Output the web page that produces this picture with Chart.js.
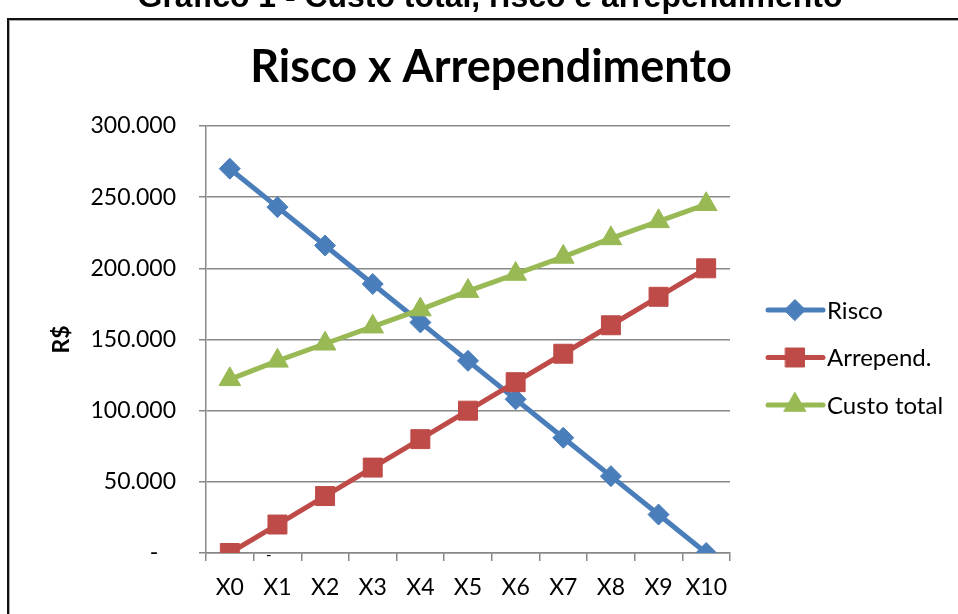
<!DOCTYPE html>
<html>
<head>
<meta charset="utf-8">
<script src="https://cdn.jsdelivr.net/npm/chart.js@4/dist/chart.umd.min.js"></script>
<style>
  html, body { margin: 0; padding: 0; background: #fff; overflow: hidden; }
  #wrap { position: relative; width: 958px; height: 614px; overflow: hidden; }
  canvas { position: absolute; left: 0; top: 0; }
</style>
</head>
<body>
<div id="wrap"><canvas id="c" width="958" height="614"></canvas></div>
<script>
// Categories and series (R$)
const categories = ['X0', 'X1', 'X2', 'X3', 'X4', 'X5', 'X6', 'X7', 'X8', 'X9', 'X10'];
const risco      = [270000, 243000, 216000, 189000, 162000, 135000, 108000, 81000, 54000, 27000, 0];
const arrepend   = [0, 20000, 40000, 60000, 80000, 100000, 120000, 140000, 160000, 180000, 200000];
const custoTotal = [122000, 135000, 147000, 159000, 171000, 184000, 196000, 208000, 221000, 233000, 245000];
const seriesNames = ['Risco', 'Arrepend.', 'Custo total'];

const yMin = 0, yMax = 300000, yStep = 50000;

const captionText = 'Gráfico 1 - Custo total, risco e arrependimento';
const chartTitle = 'Risco x Arrependimento';
const yAxisTitle = 'R$';

const FONT = 'Lato, "Noto Sans", sans-serif';
const GRID = '#888888';

// 50000 -> "50.000", 0 -> "-"
function fmt(v) {
  if (v === 0) return '-   ';
  const s = String(Math.round(v));
  return s.replace(/\B(?=(\d{3})+(?!\d))/g, '.');
}

// Caption, frame, chart title and legend drawn on the same canvas
const decor = {
  id: 'decor',
  afterDraw(chart) {
    const ctx = chart.ctx;
    const area = chart.chartArea;
    ctx.save();

    // document caption above the frame, fitted to its width
    const capFamily = '"Liberation Sans Narrow", "Liberation Sans", Arial, sans-serif';
    ctx.font = 'bold 32px ' + capFamily;
    const w = ctx.measureText(captionText).width;
    const size = 32 * 705 / w;
    ctx.font = 'bold ' + size.toFixed(2) + 'px ' + capFamily;
    ctx.fillStyle = '#000';
    ctx.textAlign = 'center';
    ctx.textBaseline = 'alphabetic';
    ctx.fillText(captionText, 490, 7);

    // frame around the chart
    ctx.fillStyle = '#111';
    ctx.fillRect(7, 18, 2, 700);
    ctx.fillRect(7, 18, 1000, 2);
    ctx.fillStyle = '#aaa';
    ctx.fillRect(9, 20, 1, 700);
    ctx.fillRect(9, 20, 1000, 1);

    // chart title
    ctx.fillStyle = '#000';
    ctx.font = 'bold 45px ' + FONT;
    ctx.textAlign = 'center';
    ctx.textBaseline = 'alphabetic';
    ctx.fillText(chartTitle, 491, 82);

    // legend: line + marker + name
    const lx0 = area.right + 38, lx1 = area.right + 93, mx = area.right + 65, tx = area.right + 97;
    chart.data.datasets.forEach((ds, i) => {
      const y = 310 + i * 47.5;
      ctx.strokeStyle = ds.borderColor;
      ctx.lineWidth = ds.borderWidth;
      ctx.lineCap = 'round';
      ctx.beginPath();
      ctx.moveTo(lx0, y);
      ctx.lineTo(lx1, y);
      ctx.stroke();
      ctx.fillStyle = ds.pointBackgroundColor;
      ctx.strokeStyle = ds.pointBorderColor;
      ctx.lineWidth = ds.pointBorderWidth;
      Chart.helpers.drawPoint(ctx, {
        pointStyle: ds.pointStyle, radius: ds.pointRadius, rotation: 0, borderWidth: ds.pointBorderWidth
      }, mx, y);
      ctx.fillStyle = '#000';
      ctx.font = '24px ' + FONT;
      ctx.textAlign = 'left';
      ctx.textBaseline = 'middle';
      ctx.fillText(ds.label, tx, y + 1);
    });

    // zero label of the first Arrepend. point
    const xs = chart.scales.x, ys = chart.scales.y;
    ctx.font = '15px ' + FONT;
    ctx.textAlign = 'center';
    ctx.textBaseline = 'middle';
    ctx.fillStyle = '#000';
    ctx.fillText('-', xs.getPixelForValue(0) + 39, ys.getPixelForValue(arrepend[0]) + 2);

    ctx.restore();
  }
};

function series(label, data, color, style, radius, order) {
  return {
    label, data, order,
    borderColor: color, backgroundColor: color,
    borderWidth: 5, borderJoinStyle: 'round', borderCapStyle: 'round',
    tension: 0, fill: false,
    pointStyle: style, pointRadius: radius, pointHoverRadius: radius,
    pointBackgroundColor: color, pointBorderColor: color, pointBorderWidth: 1
  };
}

function draw() {
  new Chart(document.getElementById('c'), {
    type: 'line',
    data: {
      labels: categories,
      datasets: [
        series(seriesNames[0], risco, '#4A7EBB', 'rectRot', 10.5, 3),
        series(seriesNames[1], arrepend, '#BE4B48', 'rect', 13.4, 2),
        series(seriesNames[2], custoTotal, '#98B954', 'triangle', 12.5, 1)
      ]
    },
    options: {
      responsive: false,
      animation: false,
      devicePixelRatio: 1,
      layout: { padding: { top: 126, right: 228, bottom: 0, left: 0 } },
      plugins: { legend: { display: false }, title: { display: false }, tooltip: { enabled: false } },
      scales: {
        x: {
          offset: true,
          grid: { display: true, drawOnChartArea: false, drawTicks: true, tickLength: 8, offset: true, color: GRID, lineWidth: 1.5 },
          border: { display: true, color: GRID, width: 1.5 },
          ticks: { color: '#000', font: { family: FONT, size: 23 }, padding: 13, maxRotation: 0, autoSkip: false },
          afterFit(s) { s.height = 61; }
        },
        y: {
          min: yMin, max: yMax,
          grid: { color: GRID, lineWidth: 1.5, tickLength: 7 },
          border: { display: true, color: GRID, width: 1.5 },
          ticks: { stepSize: yStep, callback: fmt, color: '#000', font: { family: FONT, size: 23 }, padding: 23 },
          title: { display: true, text: yAxisTitle, color: '#000', font: { family: FONT, size: 23, weight: 'bold' }, padding: { top: 48, bottom: 0 } },
          afterFit(s) { s.width = 206; }
        }
      }
    },
    plugins: [decor]
  });
}

Promise.all([
  document.fonts.load('23px Lato'),
  document.fonts.load('bold 45px Lato'),
  document.fonts.load('bold 32px "Liberation Sans Narrow"'),
  document.fonts.load('bold 32px "Liberation Sans"')
]).then(draw, draw);
</script>
</body>
</html>
